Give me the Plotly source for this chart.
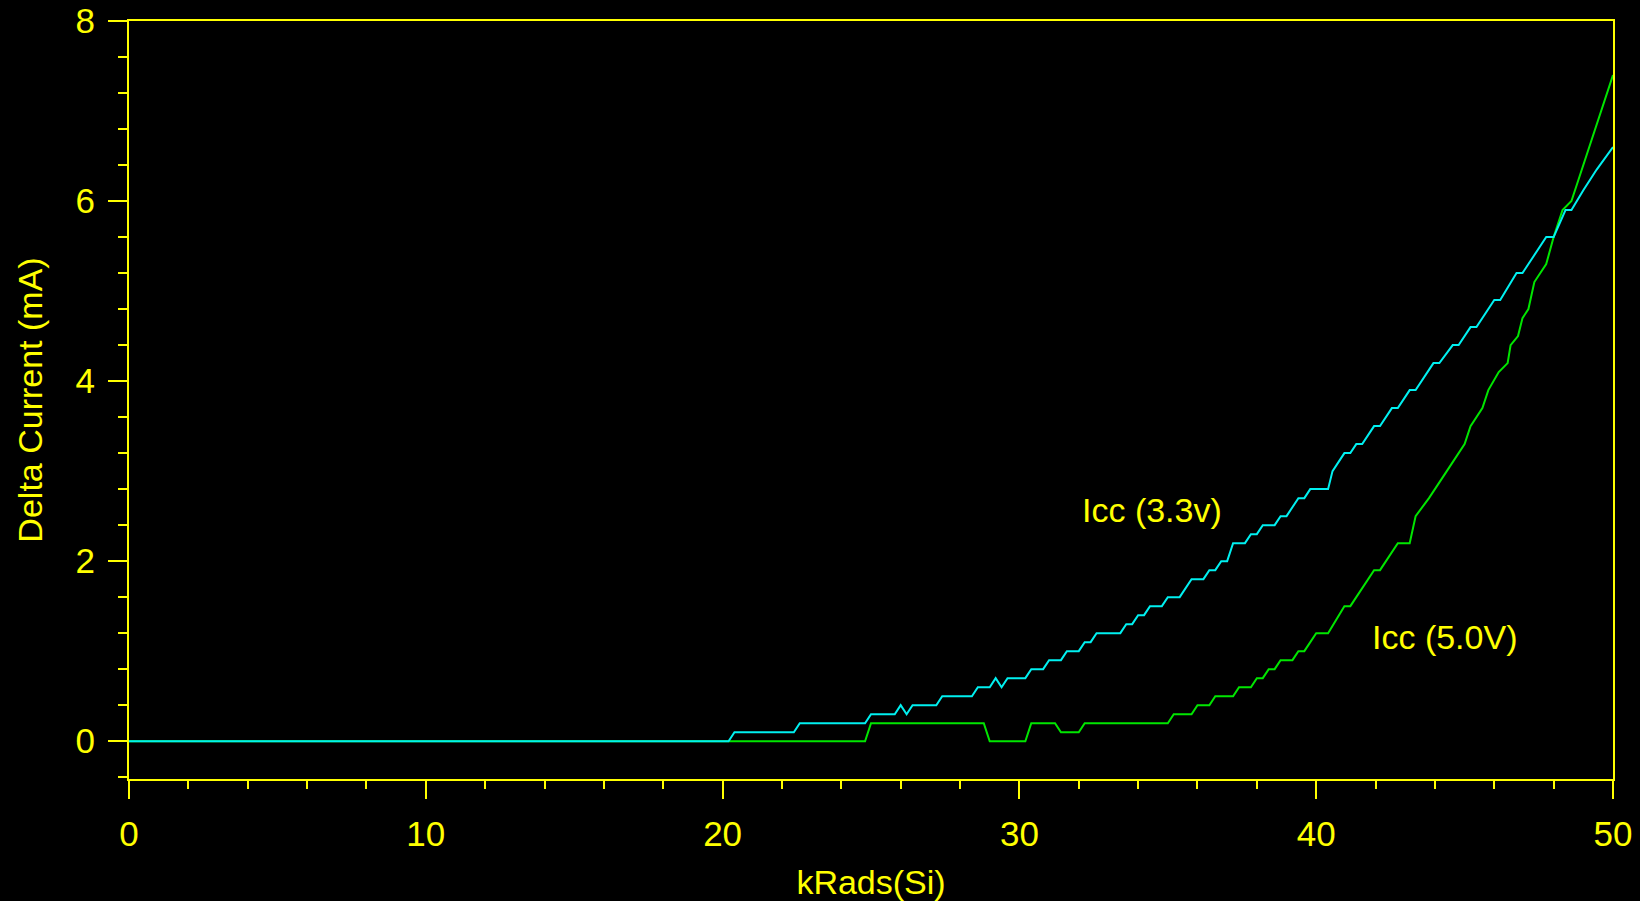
import plotly.graph_objects as go

# kRads(Si) vs Delta Current (mA) — vertices
icc33_x = [0, 20.2, 20.4, 22.4, 22.6, 24.8, 25.0, 25.8, 26.0, 26.2, 26.4, 27.2, 27.4, 28.4, 28.6,
           29.0, 29.2, 29.4, 29.6, 30.2, 30.4, 30.8, 31.0, 31.4, 31.6, 32.0, 32.2, 32.4, 32.6,
           33.4, 33.6, 33.8, 34.0, 34.2, 34.4, 34.8, 35.0, 35.4, 35.8, 36.2, 36.4, 36.6, 36.8,
           37.0, 37.2, 37.6, 37.8, 38.0, 38.2, 38.6, 38.8, 39.0, 39.4, 39.6, 39.8, 40.4, 40.55,
           40.95, 41.15, 41.35, 41.55, 41.95, 42.15, 42.55, 42.75, 43.15, 43.35, 43.95, 44.15,
           44.6, 44.8, 45.2, 45.4, 46.0, 46.2, 46.75, 46.95, 47.75, 48.0, 48.4, 48.6, 49.0,
           49.45, 50.0]
icc33_y = [0, 0, 0.1, 0.1, 0.2, 0.2, 0.3, 0.3, 0.4, 0.3, 0.4, 0.4, 0.5, 0.5, 0.6,
           0.6, 0.7, 0.6, 0.7, 0.7, 0.8, 0.8, 0.9, 0.9, 1.0, 1.0, 1.1, 1.1, 1.2,
           1.2, 1.3, 1.3, 1.4, 1.4, 1.5, 1.5, 1.6, 1.6, 1.8, 1.8, 1.9, 1.9, 2.0,
           2.0, 2.2, 2.2, 2.3, 2.3, 2.4, 2.4, 2.5, 2.5, 2.7, 2.7, 2.8, 2.8, 3.0,
           3.2, 3.2, 3.3, 3.3, 3.5, 3.5, 3.7, 3.7, 3.9, 3.9, 4.2, 4.2,
           4.4, 4.4, 4.6, 4.6, 4.9, 4.9, 5.2, 5.2, 5.6, 5.6, 5.9, 5.9, 6.12,
           6.35, 6.6]

icc50_x = [0, 24.8, 25.0, 28.8, 29.0, 30.2, 30.4, 31.2, 31.4, 32.0, 32.2, 35.0, 35.2, 35.8,
           36.0, 36.4, 36.6, 37.2, 37.4, 37.8, 38.0, 38.2, 38.4, 38.6, 38.8, 39.2, 39.4,
           39.6, 40.0, 40.4, 40.95, 41.15, 41.95, 42.15, 42.75, 43.15, 43.35, 43.8, 44.4,
           45.0, 45.2, 45.6, 45.8, 46.15, 46.45, 46.55, 46.8, 46.95, 47.15, 47.35, 47.75,
           48.0, 48.3, 48.6, 50.0]
icc50_y = [0, 0, 0.2, 0.2, 0, 0, 0.2, 0.2, 0.1, 0.1, 0.2, 0.2, 0.3, 0.3,
           0.4, 0.4, 0.5, 0.5, 0.6, 0.6, 0.7, 0.7, 0.8, 0.8, 0.9, 0.9, 1.0,
           1.0, 1.2, 1.2, 1.5, 1.5, 1.9, 1.9, 2.2, 2.2, 2.5, 2.7, 3.0,
           3.3, 3.5, 3.7, 3.9, 4.1, 4.2, 4.4, 4.5, 4.7, 4.8, 5.1, 5.3,
           5.6, 5.9, 6.0, 7.4]

x_ticks = [0, 10, 20, 30, 40, 50]
y_ticks = [0, 2, 4, 6, 8]

labels = ["Icc (3.3v)", "Icc (5.0V)"]
label_x = [34.48, 44.31]
label_y = [2.57, 1.16]

YEL = "#FFFF00"
FONT = "Liberation Sans, Arial, sans-serif"

fig = go.Figure()
fig.add_trace(go.Scatter(x=icc50_x, y=icc50_y, mode="lines", name="Icc (5.0V)",
                         line=dict(color="#00E600", width=2)))
fig.add_trace(go.Scatter(x=icc33_x, y=icc33_y, mode="lines", name="Icc (3.3v)",
                         line=dict(color="#00F0F0", width=2)))

for t, xx, yy in zip(labels, label_x, label_y):
    fig.add_annotation(x=xx, y=yy, text=t, showarrow=False,
                       font=dict(family=FONT, size=34, color=YEL))

axis_common = dict(showgrid=False, zeroline=False, showline=True, linecolor=YEL, linewidth=2,
                   mirror=True, ticks="outside", tickcolor=YEL, tickwidth=2,
                   tickfont=dict(family=FONT, size=35, color=YEL))

fig.update_xaxes(range=[0, 50], tickmode="array", tickvals=x_ticks,
                 ticktext=[str(v) for v in x_ticks], ticklen=18, ticklabelstandoff=5,
                 minor=dict(dtick=2, tick0=0, ticklen=8, tickwidth=2, tickcolor=YEL, ticks="outside"),
                 title=dict(text="kRads(Si)", font=dict(family=FONT, size=34, color=YEL), standoff=21),
                 **axis_common)
fig.update_yaxes(range=[-0.42, 8], tickmode="array", tickvals=y_ticks,
                 ticktext=[str(v) for v in y_ticks], ticklen=19, ticklabelstandoff=6,
                 minor=dict(dtick=0.4, tick0=0, ticklen=9, tickwidth=2, tickcolor=YEL, ticks="outside"),
                 title=dict(text="Delta Current (mA)", font=dict(family=FONT, size=34, color=YEL), standoff=23),
                 **axis_common)

fig.update_layout(width=1640, height=901, paper_bgcolor="black", plot_bgcolor="black",
                  margin=dict(l=129, r=27, t=21, b=122, autoexpand=False),
                  showlegend=False, font=dict(family=FONT, color=YEL))

fig.write_html("out.html")
